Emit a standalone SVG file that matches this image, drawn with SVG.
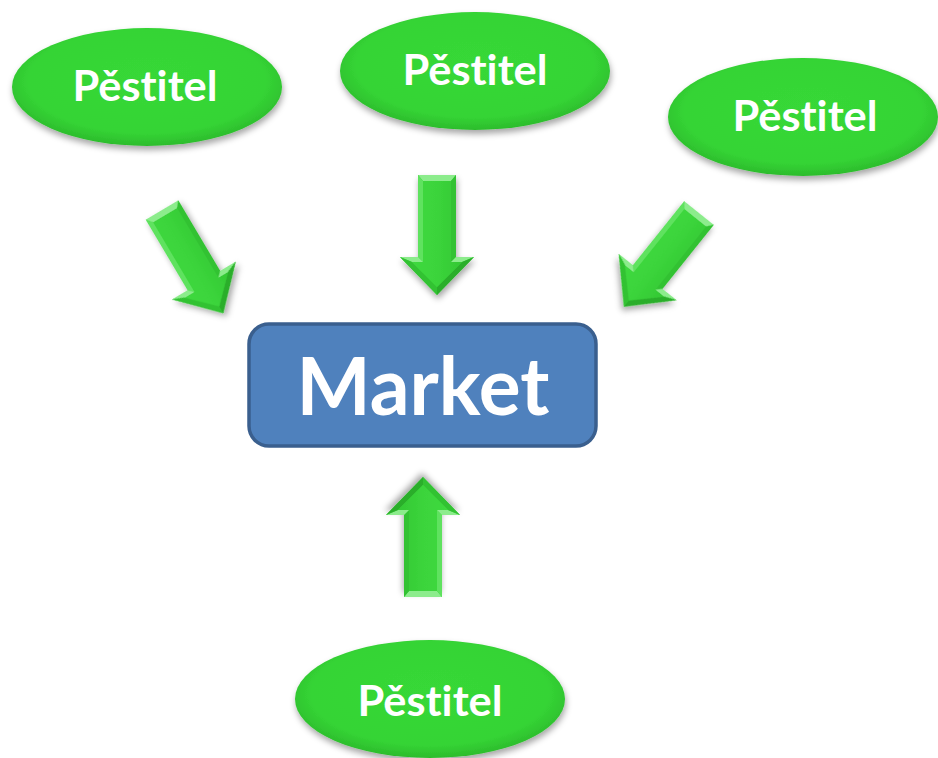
<svg xmlns="http://www.w3.org/2000/svg" width="938" height="758" viewBox="0 0 938 758">
<defs>
<style>
.ptxt{font-family:Lato,"Open Sans","Liberation Sans",sans-serif;font-weight:bold;font-size:42px;fill:#ffffff;text-anchor:middle;font-variant-ligatures:none;font-feature-settings:"liga" 0,"clig" 0}
.mtxt{font-family:Lato,"Open Sans","Liberation Sans",sans-serif;font-weight:bold;font-size:80px;fill:#ffffff;text-anchor:middle;font-variant-ligatures:none}
.ell{fill:url(#eg);filter:url(#sh)}
.f-base{fill:#3AD23A}
.f-top{fill:#8CEC8C}
.f-lt{fill:#5EE25E}
.f-dk{fill:#2AAE2A}
.f-md{fill:#32C232}
.f-in{fill:url(#ag)}
</style>
<radialGradient id="eg" cx="50%" cy="45%" r="55%">
<stop offset="0" stop-color="#37D837"/>
<stop offset="0.8" stop-color="#35D435"/>
<stop offset="1" stop-color="#2CBC2C"/>
</radialGradient>
<linearGradient id="ag" x1="0" y1="0" x2="1" y2="0">
<stop offset="0" stop-color="#3FD93F"/>
<stop offset="0.5" stop-color="#3BD43B"/>
<stop offset="1" stop-color="#34C834"/>
</linearGradient>
<filter id="sh" x="-20%" y="-20%" width="140%" height="150%">
<feDropShadow dx="1" dy="4" stdDeviation="3" flood-color="#000" flood-opacity="0.35"/>
</filter>
<g id="arrow">
<path class="f-base" d="M-19,0 L19,0 L19,82 L37,82 L0,120 L-37,82 L-19,82 Z"/>
<polygon class="f-top" points="-19,0 19,0 14,6 -14,6"/>
<polygon class="f-md" points="19,0 19,82 14,87 14,6"/>
<polygon class="f-lt" points="-19,0 -14,6 -14,87 -19,82"/>
<polygon class="f-top" points="19,82 37,82 25,87 14,87"/>
<polygon class="f-top" points="-19,82 -37,82 -25,87 -14,87"/>
<polygon class="f-dk" points="37,82 0,120 0,112 25,87"/>
<polygon class="f-md" points="-37,82 0,120 0,112 -25,87"/>
<path class="f-in" d="M-14,6 L14,6 L14,87 L25,87 L0,112 L-25,87 L-14,87 Z"/>
</g>
</defs>
<rect width="938" height="758" fill="#ffffff"/>
<g id="connectors">
<use href="#arrow" transform="translate(162,210) rotate(-30.7)" filter="url(#sh)"/>
<use href="#arrow" transform="translate(437,175)" filter="url(#sh)"/>
<use href="#arrow" transform="translate(699,213) rotate(38.7)" filter="url(#sh)"/>
<use href="#arrow" transform="translate(423,597) rotate(180)" filter="url(#sh)"/>
</g>
<g id="pestitel1">
<ellipse class="ell" cx="147" cy="87" rx="135" ry="59"/>
<text class="ptxt" x="145" y="101" textLength="145" lengthAdjust="spacingAndGlyphs">Pěstitel</text>
</g>
<g id="pestitel2">
<ellipse class="ell" cx="475" cy="71" rx="135" ry="59"/>
<text class="ptxt" x="475" y="85" textLength="145" lengthAdjust="spacingAndGlyphs">Pěstitel</text>
</g>
<g id="pestitel3">
<ellipse class="ell" cx="803" cy="117" rx="135" ry="59"/>
<text class="ptxt" x="805" y="131" textLength="145" lengthAdjust="spacingAndGlyphs">Pěstitel</text>
</g>
<g id="pestitel4">
<ellipse class="ell" cx="430" cy="699" rx="135" ry="59"/>
<text class="ptxt" x="430" y="716" textLength="145" lengthAdjust="spacingAndGlyphs">Pěstitel</text>
</g>
<g id="market">
<rect x="249" y="324" width="347" height="122" rx="20" ry="20" fill="#4F81BD" stroke="#3A5F8E" stroke-width="3.5"/>
<text class="mtxt" x="423" y="415" textLength="253" lengthAdjust="spacingAndGlyphs">Market</text>
</g>
</svg>
